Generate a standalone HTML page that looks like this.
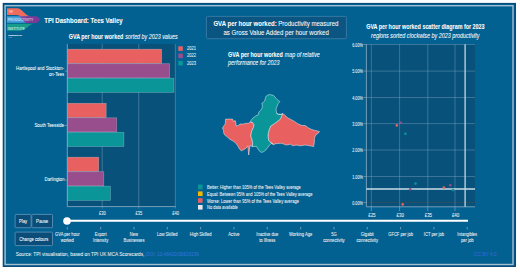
<!DOCTYPE html>
<html><head><meta charset="utf-8"><style>
html,body{margin:0;padding:0;background:#fff;width:520px;height:275px;overflow:hidden}
svg{display:block;font-family:"Liberation Sans",sans-serif}
</style></head><body>
<svg width="520" height="275" viewBox="0 0 520 275">
<rect x="2.7" y="2.9" width="513.3" height="264.1" fill="#0a4a7a"/><rect x="4" y="4" width="510.5" height="261.5" fill="#036192"/><rect x="5.1" y="5.7" width="507.9" height="258.8" fill="none" stroke="#a3bfd2" stroke-width="1.4"/><path d="M7 8.3 H17 C22.5 8.3 25 16.4 31 16.4 H23 C20 16.4 19 15 16 15 H7 Z" fill="#ef6b5e"/><rect x="7" y="16.3" width="19" height="6.5" fill="#45a0dc"/><path d="M7 23.8 H34.5 C29 23.8 26 30.7 20 30.7 H7 Z" fill="#179c8a"/><defs><linearGradient id="lg" x1="0" x2="1"><stop offset="0" stop-color="#8a4fa0"/><stop offset="0.4" stop-color="#7b3a98"/></linearGradient></defs><path d="M19.6 16.3 H36.7 L40.5 19.6 L36.7 22.9 H25.5 Z" fill="url(#lg)"/><text x="8.8" y="13.3" font-size="4.2" fill="#ffe8e8" textLength="4.2" lengthAdjust="spacingAndGlyphs">THE</text><text x="7.8" y="21.4" font-size="4" fill="#eef4ff" textLength="25.5" lengthAdjust="spacingAndGlyphs">PRODUCTIVITY</text><text x="7.8" y="29.5" font-size="4" fill="#eefff8" textLength="17" lengthAdjust="spacingAndGlyphs">INSTITUTE</text><text x="8.3" y="35.6" font-size="2.2" fill="#ffffff" stroke="#fff" stroke-width="0.1" textLength="14" lengthAdjust="spacingAndGlyphs">PRODUCTIVITY</text><text x="8.5" y="38" font-size="1.8" fill="#dde" textLength="3" lengthAdjust="spacingAndGlyphs">LAB</text><text x="44.2" y="23.3" font-size="7.9" text-anchor="start" font-weight="bold" font-style="normal" fill="#ffffff" stroke="#ffffff" stroke-width="0.06" textLength="78.5" lengthAdjust="spacingAndGlyphs" >TPI Dashboard: Tees Valley</text>
<text x="68.8" y="39.4" font-size="6.5" text-anchor="start" font-weight="bold" font-style="normal" fill="#ffffff" stroke="#ffffff" stroke-width="0.06" textLength="54.6" lengthAdjust="spacingAndGlyphs" >GVA per hour worked</text>
<text x="125.2" y="39.4" font-size="6.5" text-anchor="start" font-weight="normal" font-style="italic" fill="#ffffff" stroke="#ffffff" stroke-width="0.06" textLength="52.5" lengthAdjust="spacingAndGlyphs" >sorted by 2023 values</text>
<rect x="67.3" y="43.9" width="108" height="162.6" fill="#07517a"/><line x1="102.2" y1="43.9" x2="102.2" y2="208.5" stroke="#8fb0c8" stroke-opacity="0.6" stroke-width="0.7"/><line x1="138.75" y1="43.9" x2="138.75" y2="208.5" stroke="#8fb0c8" stroke-opacity="0.6" stroke-width="0.7"/><line x1="175.3" y1="43.9" x2="175.3" y2="208.5" stroke="#8fb0c8" stroke-opacity="0.6" stroke-width="0.7"/><rect x="67.6" y="49.20" width="94.00" height="14.2" fill="#e96060" stroke="#ffffff" stroke-opacity="0.3" stroke-width="0.7"/><rect x="67.6" y="63.70" width="102.10" height="14.2" fill="#984e8c" stroke="#ffffff" stroke-opacity="0.3" stroke-width="0.7"/><rect x="67.6" y="78.20" width="106.30" height="14.2" fill="#0a9698" stroke="#ffffff" stroke-opacity="0.3" stroke-width="0.7"/><rect x="67.6" y="103.30" width="38.60" height="14.2" fill="#e96060" stroke="#ffffff" stroke-opacity="0.3" stroke-width="0.7"/><rect x="67.6" y="117.80" width="49.10" height="14.2" fill="#984e8c" stroke="#ffffff" stroke-opacity="0.3" stroke-width="0.7"/><rect x="67.6" y="132.30" width="56.30" height="14.2" fill="#0a9698" stroke="#ffffff" stroke-opacity="0.3" stroke-width="0.7"/><rect x="67.6" y="157.20" width="31.10" height="14.2" fill="#e96060" stroke="#ffffff" stroke-opacity="0.3" stroke-width="0.7"/><rect x="67.6" y="171.70" width="36.20" height="14.2" fill="#984e8c" stroke="#ffffff" stroke-opacity="0.3" stroke-width="0.7"/><rect x="67.6" y="186.20" width="42.80" height="14.2" fill="#0a9698" stroke="#ffffff" stroke-opacity="0.3" stroke-width="0.7"/><line x1="67.3" y1="43.9" x2="67.3" y2="206.6" stroke="#8fb0c8" stroke-width="0.8"/><line x1="67.3" y1="206.6" x2="175.6" y2="206.6" stroke="#8fb0c8" stroke-width="0.8"/><line x1="64.8" y1="71" x2="67.3" y2="71" stroke="#8fb0c8" stroke-width="0.6"/><line x1="64.8" y1="125.5" x2="67.3" y2="125.5" stroke="#8fb0c8" stroke-width="0.6"/><line x1="64.8" y1="180" x2="67.3" y2="180" stroke="#8fb0c8" stroke-width="0.6"/><text x="64.2" y="69.5" font-size="6" text-anchor="end" font-weight="normal" font-style="normal" fill="#ffffff" stroke="#ffffff" stroke-width="0.06" textLength="48.2" lengthAdjust="spacingAndGlyphs" >Hartlepool and Stockton-</text>
<text x="64.2" y="76.1" font-size="6" text-anchor="end" font-weight="normal" font-style="normal" fill="#ffffff" stroke="#ffffff" stroke-width="0.06" textLength="15.2" lengthAdjust="spacingAndGlyphs" >on-Tees</text>
<text x="64.2" y="127.3" font-size="6" text-anchor="end" font-weight="normal" font-style="normal" fill="#ffffff" stroke="#ffffff" stroke-width="0.06" textLength="29.8" lengthAdjust="spacingAndGlyphs" >South Teesside</text>
<text x="64.4" y="180.8" font-size="6" text-anchor="end" font-weight="normal" font-style="normal" fill="#ffffff" stroke="#ffffff" stroke-width="0.06" textLength="19.9" lengthAdjust="spacingAndGlyphs" >Darlington</text>
<text x="102.5" y="215.4" font-size="5.6" text-anchor="middle" font-weight="normal" font-style="normal" fill="#eef3f6" stroke="#eef3f6" stroke-width="0.06" textLength="6.8" lengthAdjust="spacingAndGlyphs" >£30</text>
<text x="139" y="215.4" font-size="5.6" text-anchor="middle" font-weight="normal" font-style="normal" fill="#eef3f6" stroke="#eef3f6" stroke-width="0.06" textLength="6.8" lengthAdjust="spacingAndGlyphs" >£35</text>
<text x="175.6" y="215.4" font-size="5.6" text-anchor="middle" font-weight="normal" font-style="normal" fill="#eef3f6" stroke="#eef3f6" stroke-width="0.06" textLength="6.8" lengthAdjust="spacingAndGlyphs" >£40</text>
<rect x="178.3" y="46.3" width="4.5" height="4.6" fill="#e96060"/><text x="187.1" y="49.9" font-size="5.4" text-anchor="start" font-weight="normal" font-style="normal" fill="#f2f4f6" stroke="#f2f4f6" stroke-width="0.06" textLength="8.9" lengthAdjust="spacingAndGlyphs" >2021</text>
<rect x="178.3" y="53.599999999999994" width="4.5" height="4.6" fill="#984e8c"/><text x="187.1" y="57.199999999999996" font-size="5.4" text-anchor="start" font-weight="normal" font-style="normal" fill="#f2f4f6" stroke="#f2f4f6" stroke-width="0.06" textLength="8.9" lengthAdjust="spacingAndGlyphs" >2022</text>
<rect x="178.3" y="60.9" width="4.5" height="4.6" fill="#0a9698"/><text x="187.1" y="64.5" font-size="5.4" text-anchor="start" font-weight="normal" font-style="normal" fill="#f2f4f6" stroke="#f2f4f6" stroke-width="0.06" textLength="8.9" lengthAdjust="spacingAndGlyphs" >2023</text>
<rect x="206.4" y="16.4" width="140" height="22.3" rx="1.2" fill="#0a5582" stroke="#3f7fa8" stroke-width="0.8"/><text x="213.4" y="26.3" font-size="7.8" text-anchor="start" font-weight="bold" font-style="normal" fill="#ffffff" stroke="#ffffff" stroke-width="0.06" textLength="63.3" lengthAdjust="spacingAndGlyphs" >GVA per hour worked:</text>
<text x="278.2" y="26.3" font-size="7.8" text-anchor="start" font-weight="normal" font-style="normal" fill="#ffffff" stroke="#ffffff" stroke-width="0.06" textLength="60.3" lengthAdjust="spacingAndGlyphs" >Productivity measured</text>
<text x="223.5" y="35" font-size="7.8" text-anchor="start" font-weight="normal" font-style="normal" fill="#ffffff" stroke="#ffffff" stroke-width="0.06" textLength="105.3" lengthAdjust="spacingAndGlyphs" >as Gross Value Added per hour worked</text>
<text x="228.1" y="56.6" font-size="6.6" text-anchor="start" font-weight="bold" font-style="normal" fill="#ffffff" stroke="#ffffff" stroke-width="0.06" textLength="54.8" lengthAdjust="spacingAndGlyphs" >GVA per hour worked</text>
<text x="284.8" y="56.6" font-size="6.6" text-anchor="start" font-weight="normal" font-style="italic" fill="#ffffff" stroke="#ffffff" stroke-width="0.06" textLength="35" lengthAdjust="spacingAndGlyphs" >map of relative</text>
<text x="228.1" y="65.4" font-size="6.6" text-anchor="start" font-weight="normal" font-style="italic" fill="#ffffff" stroke="#ffffff" stroke-width="0.06" textLength="51.5" lengthAdjust="spacingAndGlyphs" >performance for 2023</text>
<polygon points="225.6,119.1 232.5,119.1 233.3,121.5 235.2,120.5 235.7,122 236.2,125.9 238.4,125.5 239.8,124 243.5,124 246.4,123.3 248.3,123.3 250.2,122 252.7,122.6 254,124.6 253.4,127.7 251.5,131.6 250.8,136 252.1,139.8 252.7,143.7 252.4,146.6 250,145.5 248.7,155 247.9,145.8 246.4,147.9 244.2,149.4 241.3,150.8 239.8,149.4 237.6,145.7 235.5,142.8 232.5,140.7 229.6,139.2 227.5,137 225.3,135.6 223.8,133.4 223.5,130.3 222.4,128.1 223.8,125.9 225.3,123.7" fill="#e96060" stroke="#ffffff" stroke-width="0.45" stroke-linejoin="round"/><polygon points="283.8,114.2 288,118.1 291.3,119.7 294.5,121.4 297.8,123.8 301.9,125.5 305.2,125.5 308.5,127.9 311.7,129.5 315,130.4 319.4,131.4 318.5,133 316,134.7 314.4,137.9 314.4,142 313.6,146.6 310.1,145.8 305.2,145 300.3,145.8 296.2,145 292.9,145.8 290.5,144.2 286.4,145 281.5,143.3 276.5,143.5 274.5,144.2 273.4,144.4 270.5,142.5 268.6,140.4 268.1,136.5 268.1,133.9 269,130 270.7,126 274.7,123.4 279.9,119.5 281.5,116.5 282.5,113.5" fill="#e96060" stroke="#ffffff" stroke-width="0.45" stroke-linejoin="round"/><polygon points="266.2,96 269.1,94.5 273.4,95.3 277.3,99.8 279.9,101.6 278.1,103.7 276,109 276.5,112.9 278.6,114.2 281.2,114.2 282.5,113.5 281.5,116.5 279.9,119.5 274.7,123.4 270.7,126 269,130 268.1,133.9 268.1,136.5 268.6,140.4 270.5,142.5 273.4,144.4 271.6,143.1 269.4,145.3 267.8,147.4 265.6,150.2 263.4,151.8 261.3,152.4 259.1,150.7 257.4,148 256.4,146.4 252.4,146.6 252.7,143.7 252.1,139.8 250.8,136 251.5,131.6 253.4,127.7 254,124.6 252.7,122.6 250.2,121.6 252.7,118.2 255.9,115.8 258.2,114.9 258.9,112 261.1,109.8 262.5,106.9 261.8,103.3 264.7,101.1 265.5,97.5" fill="#0a9698" stroke="#ffffff" stroke-width="0.45" stroke-linejoin="round"/><path d="M276.3 113.3 L278.8 114.6 L282 114.4" stroke="#fff" stroke-width="0.5" fill="none"/><rect x="198" y="184.6" width="4.6" height="4.6" fill="#0a9698"/><text x="207" y="189.0" font-size="5.2" text-anchor="start" font-weight="normal" font-style="normal" fill="#f4f4f4" stroke="#f4f4f4" stroke-width="0.06" textLength="93.8" lengthAdjust="spacingAndGlyphs" >Better: Higher than 105% of the Tees Valley average</text>
<rect x="198" y="191.4" width="4.6" height="4.6" fill="#f2b800"/><text x="207" y="195.8" font-size="5.2" text-anchor="start" font-weight="normal" font-style="normal" fill="#f4f4f4" stroke="#f4f4f4" stroke-width="0.06" textLength="105.5" lengthAdjust="spacingAndGlyphs" >Equal: Between 95% and 105% of the Tees Valley average</text>
<rect x="198" y="198.2" width="4.6" height="4.6" fill="#e96060"/><text x="207" y="202.6" font-size="5.2" text-anchor="start" font-weight="normal" font-style="normal" fill="#f4f4f4" stroke="#f4f4f4" stroke-width="0.06" textLength="92" lengthAdjust="spacingAndGlyphs" >Worse: Lower than 95% of the Tees Valley average</text>
<rect x="198" y="205.0" width="4.6" height="4.6" fill="#e8e8e8"/><text x="207" y="209.4" font-size="5.2" text-anchor="start" font-weight="normal" font-style="normal" fill="#f4f4f4" stroke="#f4f4f4" stroke-width="0.06" textLength="30.8" lengthAdjust="spacingAndGlyphs" >No data available</text>
<text x="366.2" y="29.1" font-size="6.9" text-anchor="start" font-weight="bold" font-style="normal" fill="#ffffff" stroke="#ffffff" stroke-width="0.06" textLength="118.4" lengthAdjust="spacingAndGlyphs" >GVA per hour worked scatter diagram for 2023</text>
<text x="371.1" y="37.6" font-size="6.9" text-anchor="start" font-weight="normal" font-style="italic" fill="#ffffff" stroke="#ffffff" stroke-width="0.06" textLength="108.4" lengthAdjust="spacingAndGlyphs" >regions sorted clockwise by 2023 productivity</text>
<rect x="366.4" y="44.3" width="108.6" height="162.5" fill="#07517a"/><line x1="366.4" y1="44.5" x2="475" y2="44.5" stroke="#8fb0c8" stroke-opacity="0.55" stroke-width="0.7"/><line x1="363.6" y1="44.5" x2="366.4" y2="44.5" stroke="#8fb0c8" stroke-width="0.6"/><text x="362.8" y="46.7" font-size="5.2" text-anchor="end" font-weight="normal" font-style="normal" fill="#f4f6f8" stroke="#f4f6f8" stroke-width="0.06" textLength="10.6" lengthAdjust="spacingAndGlyphs" >6.00%</text>
<line x1="366.4" y1="71.1" x2="475" y2="71.1" stroke="#8fb0c8" stroke-opacity="0.55" stroke-width="0.7"/><line x1="363.6" y1="71.1" x2="366.4" y2="71.1" stroke="#8fb0c8" stroke-width="0.6"/><text x="362.8" y="73.3" font-size="5.2" text-anchor="end" font-weight="normal" font-style="normal" fill="#f4f6f8" stroke="#f4f6f8" stroke-width="0.06" textLength="10.6" lengthAdjust="spacingAndGlyphs" >5.00%</text>
<line x1="366.4" y1="97.5" x2="475" y2="97.5" stroke="#8fb0c8" stroke-opacity="0.55" stroke-width="0.7"/><line x1="363.6" y1="97.5" x2="366.4" y2="97.5" stroke="#8fb0c8" stroke-width="0.6"/><text x="362.8" y="99.7" font-size="5.2" text-anchor="end" font-weight="normal" font-style="normal" fill="#f4f6f8" stroke="#f4f6f8" stroke-width="0.06" textLength="10.6" lengthAdjust="spacingAndGlyphs" >4.00%</text>
<line x1="366.4" y1="123.6" x2="475" y2="123.6" stroke="#8fb0c8" stroke-opacity="0.55" stroke-width="0.7"/><line x1="363.6" y1="123.6" x2="366.4" y2="123.6" stroke="#8fb0c8" stroke-width="0.6"/><text x="362.8" y="125.8" font-size="5.2" text-anchor="end" font-weight="normal" font-style="normal" fill="#f4f6f8" stroke="#f4f6f8" stroke-width="0.06" textLength="10.6" lengthAdjust="spacingAndGlyphs" >3.00%</text>
<line x1="366.4" y1="150" x2="475" y2="150" stroke="#8fb0c8" stroke-opacity="0.55" stroke-width="0.7"/><line x1="363.6" y1="150" x2="366.4" y2="150" stroke="#8fb0c8" stroke-width="0.6"/><text x="362.8" y="152.2" font-size="5.2" text-anchor="end" font-weight="normal" font-style="normal" fill="#f4f6f8" stroke="#f4f6f8" stroke-width="0.06" textLength="10.6" lengthAdjust="spacingAndGlyphs" >2.00%</text>
<line x1="366.4" y1="176.5" x2="475" y2="176.5" stroke="#8fb0c8" stroke-opacity="0.55" stroke-width="0.7"/><line x1="363.6" y1="176.5" x2="366.4" y2="176.5" stroke="#8fb0c8" stroke-width="0.6"/><text x="362.8" y="178.7" font-size="5.2" text-anchor="end" font-weight="normal" font-style="normal" fill="#f4f6f8" stroke="#f4f6f8" stroke-width="0.06" textLength="10.6" lengthAdjust="spacingAndGlyphs" >1.00%</text>
<line x1="366.4" y1="202.4" x2="475" y2="202.4" stroke="#6b4a3a" stroke-opacity="0.55" stroke-width="0.7"/><line x1="363.6" y1="202.4" x2="366.4" y2="202.4" stroke="#8fb0c8" stroke-width="0.6"/><text x="362.8" y="204.6" font-size="5.2" text-anchor="end" font-weight="normal" font-style="normal" fill="#f4f6f8" stroke="#f4f6f8" stroke-width="0.06" textLength="10.6" lengthAdjust="spacingAndGlyphs" >0.00%</text>
<line x1="371.3" y1="44.3" x2="371.3" y2="206.8" stroke="#8fb0c8" stroke-opacity="0.55" stroke-width="0.7"/><line x1="371.3" y1="206.8" x2="371.3" y2="211" stroke="#8fb0c8" stroke-width="0.6"/><text x="371.90000000000003" y="217.1" font-size="5.6" text-anchor="middle" font-weight="normal" font-style="normal" fill="#eef3f6" stroke="#eef3f6" stroke-width="0.06" textLength="7.4" lengthAdjust="spacingAndGlyphs" >£25</text>
<line x1="399.6" y1="44.3" x2="399.6" y2="206.8" stroke="#8fb0c8" stroke-opacity="0.55" stroke-width="0.7"/><line x1="399.6" y1="206.8" x2="399.6" y2="211" stroke="#8fb0c8" stroke-width="0.6"/><text x="400.20000000000005" y="217.1" font-size="5.6" text-anchor="middle" font-weight="normal" font-style="normal" fill="#eef3f6" stroke="#eef3f6" stroke-width="0.06" textLength="7.4" lengthAdjust="spacingAndGlyphs" >£30</text>
<line x1="427.8" y1="44.3" x2="427.8" y2="206.8" stroke="#8fb0c8" stroke-opacity="0.55" stroke-width="0.7"/><line x1="427.8" y1="206.8" x2="427.8" y2="211" stroke="#8fb0c8" stroke-width="0.6"/><text x="428.40000000000003" y="217.1" font-size="5.6" text-anchor="middle" font-weight="normal" font-style="normal" fill="#eef3f6" stroke="#eef3f6" stroke-width="0.06" textLength="7.4" lengthAdjust="spacingAndGlyphs" >£35</text>
<line x1="455" y1="44.3" x2="455" y2="206.8" stroke="#8fb0c8" stroke-opacity="0.55" stroke-width="0.7"/><line x1="455" y1="206.8" x2="455" y2="211" stroke="#8fb0c8" stroke-width="0.6"/><text x="455.6" y="217.1" font-size="5.6" text-anchor="middle" font-weight="normal" font-style="normal" fill="#eef3f6" stroke="#eef3f6" stroke-width="0.06" textLength="7.4" lengthAdjust="spacingAndGlyphs" >£40</text>
<line x1="366.4" y1="44.3" x2="366.4" y2="206.8" stroke="#8fb0c8" stroke-width="0.8"/><line x1="366.4" y1="206.8" x2="475" y2="206.8" stroke="#8fb0c8" stroke-width="0.8"/><line x1="366.4" y1="189.1" x2="475" y2="189.1" stroke="#cddde8" stroke-width="1.5"/><line x1="465.1" y1="44.3" x2="465.1" y2="206.8" stroke="#c7d6e0" stroke-width="1.3"/><circle cx="400.9" cy="122.7" r="1.3" fill="#984e8c"/><circle cx="396.8" cy="125.4" r="1.3" fill="#e96060"/><circle cx="405.4" cy="133.8" r="1.3" fill="#0a9698"/><circle cx="415.5" cy="183.6" r="1.3" fill="#0a9698"/><circle cx="410.2" cy="189.2" r="1.3" fill="#984e8c"/><circle cx="443.9" cy="187.5" r="1.3" fill="#e96060"/><circle cx="450.2" cy="185.2" r="1.3" fill="#984e8c"/><circle cx="452.9" cy="190" r="1.3" fill="#0a9698"/><circle cx="402.7" cy="204.4" r="1.3" fill="#e96060"/><rect x="15.1" y="214.4" width="16" height="13.3" rx="0.8" fill="#0a4d79" stroke="#5a8db5" stroke-width="0.9"/><text x="23.1" y="222.85000000000002" font-size="5.2" text-anchor="middle" font-weight="normal" font-style="normal" fill="#ffffff" stroke="#ffffff" stroke-width="0.06" textLength="8" lengthAdjust="spacingAndGlyphs" >Play</text>
<rect x="31.8" y="214.4" width="20.7" height="13.3" rx="0.8" fill="#0a4d79" stroke="#5a8db5" stroke-width="0.9"/><text x="42.15" y="222.85000000000002" font-size="5.2" text-anchor="middle" font-weight="normal" font-style="normal" fill="#ffffff" stroke="#ffffff" stroke-width="0.06" textLength="12.2" lengthAdjust="spacingAndGlyphs" >Pause</text>
<rect x="15.1" y="232.1" width="37.4" height="13.5" rx="0.8" fill="#0a4d79" stroke="#5a8db5" stroke-width="0.9"/><text x="33.8" y="240.65" font-size="5.2" text-anchor="middle" font-weight="normal" font-style="normal" fill="#ffffff" stroke="#ffffff" stroke-width="0.06" textLength="29.1" lengthAdjust="spacingAndGlyphs" >Change colours</text>
<line x1="67" y1="220.8" x2="468" y2="220.8" stroke="#ffffff" stroke-width="2"/><circle cx="67" cy="221" r="3.8" fill="#ffffff"/><line x1="67.30" y1="227.1" x2="67.30" y2="229.3" stroke="#dde" stroke-width="0.5"/><text transform="translate(67.30,236.1) scale(0.79,1)" x="0" y="0" font-size="5.2" text-anchor="middle" font-weight="normal" font-style="normal" fill="#f2f2f2" stroke="#f2f2f2" stroke-width="0.06" >GVA per hour</text>
<text transform="translate(67.30,242.2) scale(0.79,1)" x="0" y="0" font-size="5.2" text-anchor="middle" font-weight="normal" font-style="normal" fill="#f2f2f2" stroke="#f2f2f2" stroke-width="0.06" >worked</text>
<line x1="100.63" y1="227.1" x2="100.63" y2="229.3" stroke="#dde" stroke-width="0.5"/><text transform="translate(100.63,236.1) scale(0.79,1)" x="0" y="0" font-size="5.2" text-anchor="middle" font-weight="normal" font-style="normal" fill="#f2f2f2" stroke="#f2f2f2" stroke-width="0.06" >Export</text>
<text transform="translate(100.63,242.2) scale(0.79,1)" x="0" y="0" font-size="5.2" text-anchor="middle" font-weight="normal" font-style="normal" fill="#f2f2f2" stroke="#f2f2f2" stroke-width="0.06" >Intensity</text>
<line x1="133.96" y1="227.1" x2="133.96" y2="229.3" stroke="#dde" stroke-width="0.5"/><text transform="translate(133.96,236.1) scale(0.79,1)" x="0" y="0" font-size="5.2" text-anchor="middle" font-weight="normal" font-style="normal" fill="#f2f2f2" stroke="#f2f2f2" stroke-width="0.06" >New</text>
<text transform="translate(133.96,242.2) scale(0.79,1)" x="0" y="0" font-size="5.2" text-anchor="middle" font-weight="normal" font-style="normal" fill="#f2f2f2" stroke="#f2f2f2" stroke-width="0.06" >Businesses</text>
<line x1="167.29" y1="227.1" x2="167.29" y2="229.3" stroke="#dde" stroke-width="0.5"/><text transform="translate(167.29,236.1) scale(0.79,1)" x="0" y="0" font-size="5.2" text-anchor="middle" font-weight="normal" font-style="normal" fill="#f2f2f2" stroke="#f2f2f2" stroke-width="0.06" >Low Skilled</text>
<line x1="200.62" y1="227.1" x2="200.62" y2="229.3" stroke="#dde" stroke-width="0.5"/><text transform="translate(200.62,236.1) scale(0.79,1)" x="0" y="0" font-size="5.2" text-anchor="middle" font-weight="normal" font-style="normal" fill="#f2f2f2" stroke="#f2f2f2" stroke-width="0.06" >High Skilled</text>
<line x1="233.95" y1="227.1" x2="233.95" y2="229.3" stroke="#dde" stroke-width="0.5"/><text transform="translate(233.95,236.1) scale(0.79,1)" x="0" y="0" font-size="5.2" text-anchor="middle" font-weight="normal" font-style="normal" fill="#f2f2f2" stroke="#f2f2f2" stroke-width="0.06" >Active</text>
<line x1="267.28" y1="227.1" x2="267.28" y2="229.3" stroke="#dde" stroke-width="0.5"/><text transform="translate(267.28,236.1) scale(0.79,1)" x="0" y="0" font-size="5.2" text-anchor="middle" font-weight="normal" font-style="normal" fill="#f2f2f2" stroke="#f2f2f2" stroke-width="0.06" >Inactive due</text>
<text transform="translate(267.28,242.2) scale(0.79,1)" x="0" y="0" font-size="5.2" text-anchor="middle" font-weight="normal" font-style="normal" fill="#f2f2f2" stroke="#f2f2f2" stroke-width="0.06" >to Illness</text>
<line x1="300.61" y1="227.1" x2="300.61" y2="229.3" stroke="#dde" stroke-width="0.5"/><text transform="translate(300.61,236.1) scale(0.79,1)" x="0" y="0" font-size="5.2" text-anchor="middle" font-weight="normal" font-style="normal" fill="#f2f2f2" stroke="#f2f2f2" stroke-width="0.06" >Working Age</text>
<line x1="333.94" y1="227.1" x2="333.94" y2="229.3" stroke="#dde" stroke-width="0.5"/><text transform="translate(333.94,236.1) scale(0.79,1)" x="0" y="0" font-size="5.2" text-anchor="middle" font-weight="normal" font-style="normal" fill="#f2f2f2" stroke="#f2f2f2" stroke-width="0.06" >5G</text>
<text transform="translate(333.94,242.2) scale(0.79,1)" x="0" y="0" font-size="5.2" text-anchor="middle" font-weight="normal" font-style="normal" fill="#f2f2f2" stroke="#f2f2f2" stroke-width="0.06" >connectivity</text>
<line x1="367.27" y1="227.1" x2="367.27" y2="229.3" stroke="#dde" stroke-width="0.5"/><text transform="translate(367.27,236.1) scale(0.79,1)" x="0" y="0" font-size="5.2" text-anchor="middle" font-weight="normal" font-style="normal" fill="#f2f2f2" stroke="#f2f2f2" stroke-width="0.06" >Gigabit</text>
<text transform="translate(367.27,242.2) scale(0.79,1)" x="0" y="0" font-size="5.2" text-anchor="middle" font-weight="normal" font-style="normal" fill="#f2f2f2" stroke="#f2f2f2" stroke-width="0.06" >connectivity</text>
<line x1="400.60" y1="227.1" x2="400.60" y2="229.3" stroke="#dde" stroke-width="0.5"/><text transform="translate(400.60,236.1) scale(0.79,1)" x="0" y="0" font-size="5.2" text-anchor="middle" font-weight="normal" font-style="normal" fill="#f2f2f2" stroke="#f2f2f2" stroke-width="0.06" >GFCF per job</text>
<line x1="433.93" y1="227.1" x2="433.93" y2="229.3" stroke="#dde" stroke-width="0.5"/><text transform="translate(433.93,236.1) scale(0.79,1)" x="0" y="0" font-size="5.2" text-anchor="middle" font-weight="normal" font-style="normal" fill="#f2f2f2" stroke="#f2f2f2" stroke-width="0.06" >ICT per job</text>
<line x1="467.26" y1="227.1" x2="467.26" y2="229.3" stroke="#dde" stroke-width="0.5"/><text transform="translate(467.26,236.1) scale(0.79,1)" x="0" y="0" font-size="5.2" text-anchor="middle" font-weight="normal" font-style="normal" fill="#f2f2f2" stroke="#f2f2f2" stroke-width="0.06" >Intangibles</text>
<text transform="translate(467.26,242.2) scale(0.79,1)" x="0" y="0" font-size="5.2" text-anchor="middle" font-weight="normal" font-style="normal" fill="#f2f2f2" stroke="#f2f2f2" stroke-width="0.06" >per job</text>
<text x="15.8" y="256.2" font-size="6.2" text-anchor="start" font-weight="normal" font-style="normal" fill="#f0f0f0" stroke="#f0f0f0" stroke-width="0.06" textLength="128.6" lengthAdjust="spacingAndGlyphs" >Source: TPI visualisation, based on TPI UK MCA Scorecards,</text>
<text x="146.1" y="256.2" font-size="6.2" text-anchor="start" font-weight="normal" font-style="normal" fill="#3272d8" stroke="#3272d8" stroke-width="0.06" textLength="52.8" lengthAdjust="spacingAndGlyphs" >DOI: 10.48420/30619199</text>
<text x="474.1" y="256.2" font-size="6.2" text-anchor="start" font-weight="normal" font-style="normal" fill="#3466d6" stroke="#3466d6" stroke-width="0.06" textLength="22.4" lengthAdjust="spacingAndGlyphs" >CC BY 4.0</text>

</svg></body></html>
